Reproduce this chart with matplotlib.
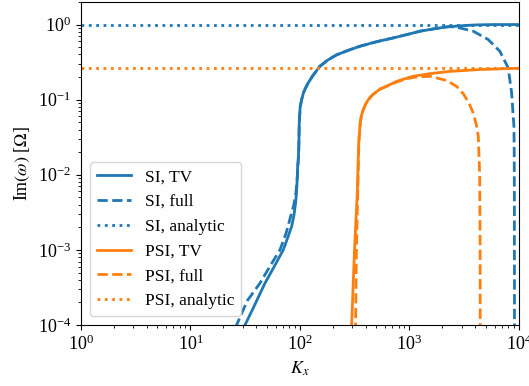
import matplotlib
matplotlib.use('Agg')
import matplotlib.pyplot as plt

plt.rcParams['font.family'] = 'serif'
plt.rcParams['font.serif'] = ['Liberation Serif', 'DejaVu Serif']
plt.rcParams['mathtext.fontset'] = 'stix'
plt.rcParams['font.size'] = 13

# SI growth rate, TV model
si_tv_k = [27, 31.5, 37.2, 47.9, 56.7, 70.4, 76, 84, 88.2, 91.9, 93.9, 95.3, 96.5, 97.5, 98.6, 100.5, 103.6, 108, 113,
           119, 130, 152, 180, 216, 280, 353, 500, 712, 1000, 1247, 1700, 2185, 3000, 4110, 6000, 10000]
si_tv = [6.3e-5, 1e-4, 1.65e-4, 3.6e-4, 5.6e-4, 1e-3, 1.36e-3, 2.05e-3, 2.9e-3, 4.6e-3, 7.4e-3, 0.0129, 0.0158, 0.0215,
         0.05, 0.08, 0.1, 0.125, 0.145, 0.167, 0.205, 0.278, 0.338, 0.395, 0.457, 0.514, 0.59, 0.664, 0.75, 0.815, 0.88,
         0.93, 0.965, 0.99, 1.0, 1.0]

# SI, full model
si_full_k = [23, 26.4, 33, 43.1, 53, 65.7, 75, 82.2, 88, 92, 94.5, 96.5, 97.5, 98.6, 100.5, 103.6, 108, 113, 119, 130,
             152, 180, 216, 280, 353, 500, 712, 1000, 1247, 1700, 2185, 2344, 2890, 3830, 5250, 6700, 7980, 8570,
             9000, 9050, 9080, 9095, 9100]
si_full = [6e-5, 1e-4, 2.1e-4, 3.6e-4, 6e-4, 1e-3, 1.7e-3, 2.78e-3, 4e-3, 5.8e-3, 9e-3, 0.0158, 0.0215, 0.05, 0.08,
           0.1, 0.125, 0.145, 0.167, 0.205, 0.278, 0.338, 0.395, 0.457, 0.514, 0.59, 0.664, 0.75, 0.815, 0.88, 0.93,
           0.94, 0.90, 0.815, 0.63, 0.44, 0.264, 0.123, 0.044, 0.02, 5e-3, 5e-4, 5e-5]

si_analytic = 1.0

# PSI, TV model
psi_tv_k = [290, 296.6, 315, 334, 344, 350, 356, 365, 379, 398, 421, 450, 484, 538, 619, 764, 942, 1084, 1538, 2344,
            4400, 10000]
psi_tv = [5e-5, 1e-4, 1e-3, 5.7e-3, 0.0264, 0.037, 0.05, 0.062, 0.0736, 0.087, 0.1, 0.112, 0.123, 0.138, 0.151,
          0.175, 0.193, 0.205, 0.222, 0.238, 0.252, 0.262]

# PSI, full model
psi_full_k = [318, 322, 328, 337, 345, 350, 356, 365, 379, 398, 421, 450, 484, 538, 619, 764, 942, 1084, 1538, 2188,
              2700, 3100, 3500, 3830, 4100, 4255, 4380, 4420, 4430]
psi_full = [5e-5, 1e-4, 1e-3, 5.7e-3, 0.0264, 0.037, 0.05, 0.062, 0.0736, 0.087, 0.1, 0.112, 0.123, 0.138, 0.151,
            0.172, 0.19, 0.198, 0.205, 0.18, 0.15, 0.12, 0.09, 0.066, 0.045, 0.032, 0.01, 1e-3, 5e-5]

psi_analytic = 0.267

fig = plt.figure(figsize=(5.29, 3.86), dpi=100)
ax = fig.add_subplot(111)
fig.subplots_adjust(left=0.153, right=0.981, top=0.995, bottom=0.158)

lw = 2
ax.plot(si_tv_k, si_tv, color='tab:blue', lw=lw, label='SI, TV')
ax.plot(si_full_k, si_full, color='tab:blue', lw=lw, ls='--', label='SI, full')
ax.axhline(si_analytic, color='tab:blue', lw=lw, ls=':', label='SI, analytic')
ax.plot(psi_tv_k, psi_tv, color='tab:orange', lw=lw, label='PSI, TV')
ax.plot(psi_full_k, psi_full, color='tab:orange', lw=lw, ls='--', label='PSI, full')
ax.axhline(psi_analytic, color='tab:orange', lw=lw, ls=':', label='PSI, analytic')

ax.set_xscale('log')
ax.set_yscale('log')
ax.set_xlim(1, 1e4)
ax.set_ylim(1e-4, 2)
ax.set_xlabel('$K_x$')
ax.set_ylabel(r'Im$(\omega)$ [$\Omega$]')
ax.legend(loc='lower left', fontsize=12.5)

fig.savefig('out.png', dpi=100)
